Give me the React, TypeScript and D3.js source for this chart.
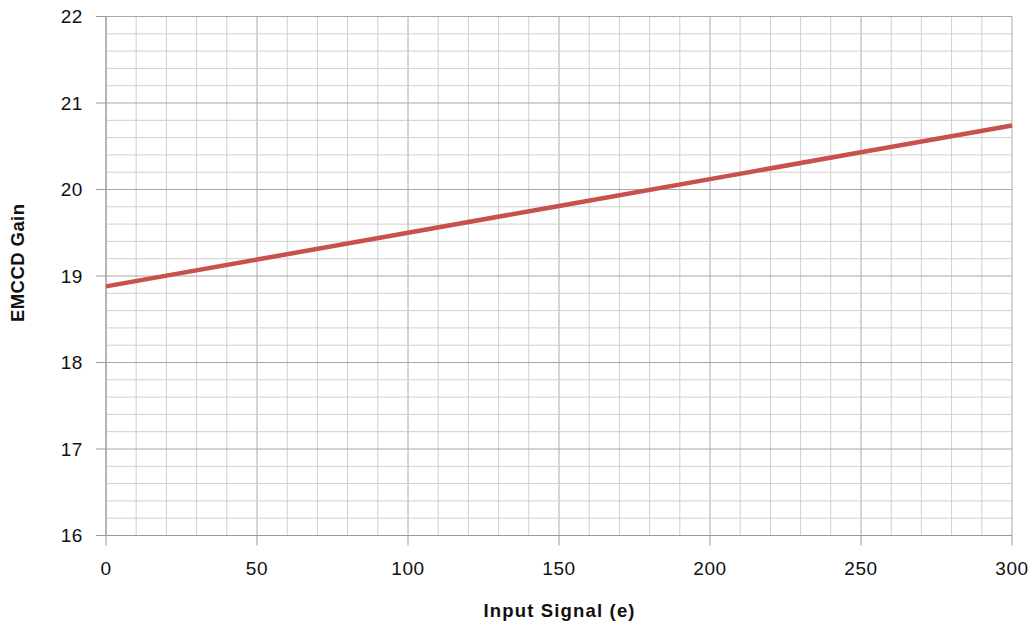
import React from "react";
import * as d3 from "d3";

const inputSignal = [0, 50, 100, 150, 200, 250, 300];
const gainValues = [18.88, 19.19, 19.5, 19.81, 20.12, 20.43, 20.74];
const xTicks = [0, 50, 100, 150, 200, 250, 300];
const yTicks = [16, 17, 18, 19, 20, 21, 22];
const xTitle = "Input Signal (e)";
const yTitle = "EMCCD Gain";

const W = 1031;
const H = 627;
const M = { left: 106, right: 1012, top: 16.5, bottom: 535.5 };

export default function App() {
  const x = d3.scaleLinear().domain([0, 300]).range([M.left, M.right]);
  const y = d3.scaleLinear().domain([16, 22]).range([M.bottom, M.top]);
  const minorX = d3.range(0, 301, 10);
  const minorY = d3.range(0, 31).map((i) => 16 + i * 0.2);
  const line = d3
    .line<number>()
    .x((_, i) => x(inputSignal[i]))
    .y((d) => y(d));
  const font = "'Liberation Sans', Arial, Helvetica, sans-serif";
  return (
    <svg
      width={W}
      height={H}
      style={{ position: "absolute", left: 0, top: 0, background: "#fff" }}
    >
      {minorX.map((v) => (
        <line
          key={"mx" + v}
          x1={x(v)}
          x2={x(v)}
          y1={M.top}
          y2={M.bottom}
          stroke={v % 50 === 0 ? "#a8a8a8" : "#cfcfcf"}
          strokeWidth={1}
        />
      ))}
      {minorY.map((v, i) => (
        <line
          key={"my" + i}
          x1={M.left}
          x2={M.right}
          y1={y(v)}
          y2={y(v)}
          stroke={i % 5 === 0 ? "#a8a8a8" : "#cfcfcf"}
          strokeWidth={1}
        />
      ))}
      {yTicks.map((t) => (
        <g key={"yt" + t}>
          <line x1={M.left - 10} x2={M.left} y1={y(t)} y2={y(t)} stroke="#999" />
          <text
            x={83}
            y={y(t)}
            dy="0.35em"
            textAnchor="end"
            fontFamily={font}
            fontSize={19}
            letterSpacing={0.6}
            fill="#111"
          >
            {t}
          </text>
        </g>
      ))}
      {xTicks.map((t) => (
        <g key={"xt" + t}>
          <line x1={x(t)} x2={x(t)} y1={M.bottom} y2={M.bottom + 10} stroke="#999" />
          <text
            x={x(t)}
            y={568.5}
            dy="0.35em"
            textAnchor="middle"
            fontFamily={font}
            fontSize={19}
            letterSpacing={0.6}
            fill="#111"
          >
            {t}
          </text>
        </g>
      ))}
      <line x1={M.left} x2={M.left} y1={M.top} y2={M.bottom} stroke="#999" />
      <line x1={M.left} x2={M.right} y1={M.bottom} y2={M.bottom} stroke="#999" />
      <path
        d={line(gainValues) || ""}
        fill="none"
        stroke="#c8504d"
        strokeWidth={4.5}
        strokeLinecap="butt"
      />
      <text
        x={559}
        y={611}
        dy="0.35em"
        textAnchor="middle"
        fontFamily={font}
        fontSize={18.5}
        fontWeight="bold"
        textLength={151}
        lengthAdjust="spacing"
        fill="#111"
      >
        {xTitle}
      </text>
      <text
        transform={`translate(18, 263) rotate(-90)`}
        dy="0.35em"
        textAnchor="middle"
        fontFamily={font}
        fontSize={18.5}
        fontWeight="bold"
        textLength={118}
        lengthAdjust="spacing"
        fill="#111"
      >
        {yTitle}
      </text>
    </svg>
  );
}
